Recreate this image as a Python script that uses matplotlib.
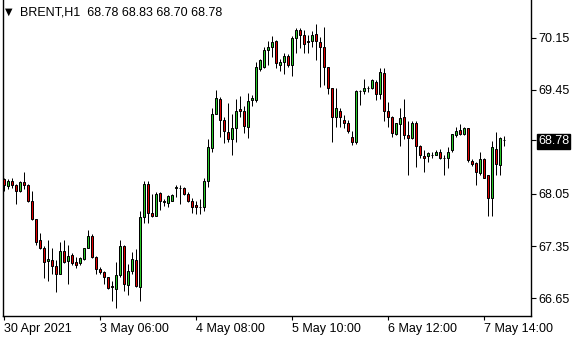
import matplotlib
matplotlib.use("Agg")
import matplotlib.pyplot as plt
import numpy as np

symbol_title = "BRENT,H1  68.78 68.83 68.70 68.78"

opens = [68.25, 68.16, 68.22, 68.17, 68.09, 68.21, 68.17, 67.95, 67.71, 67.43,
         67.33, 67.15, 67.16, 67.08, 66.98, 67.29, 67.15, 67.23, 67.13, 67.12,
         67.17, 67.33, 67.49, 67.20, 67.04, 67.00, 66.93, 66.81, 66.77, 66.96,
         67.35, 66.82, 67.02, 67.16, 66.80, 67.74, 68.18, 67.80, 67.76, 68.06,
         67.96, 67.93, 67.96, 68.13, 68.13, 68.13, 68.05, 67.96, 67.90, 67.88,
         67.88, 68.22, 68.67, 69.13, 69.33, 69.05, 68.88, 68.79, 68.93, 69.19,
         69.17, 68.95, 69.31, 69.31, 69.73, 69.75, 69.98, 70.03, 70.10, 69.79,
         69.83, 69.91, 69.79, 70.14, 70.26, 70.18, 70.11, 70.11, 70.20, 70.09,
         70.03, 69.75, 69.47, 69.09, 69.17, 69.05, 69.01, 68.82, 68.75, 69.43,
         69.43, 69.47, 69.47, 69.56, 69.40, 69.67, 69.17, 69.09, 68.85, 68.99,
         69.08, 68.84, 68.80, 69.01, 68.70, 68.56, 68.56, 68.58, 68.58, 68.62,
         68.53, 68.54, 68.64, 68.84, 68.91, 68.85, 68.93, 68.49, 68.46, 68.33,
         68.52, 68.30, 68.00, 68.66, 68.44, 68.78]

closes = [68.17, 68.23, 68.17, 68.09, 68.21, 68.17, 67.95, 67.72, 67.41, 67.32,
          67.13, 67.17, 67.08, 66.98, 67.29, 67.13, 67.21, 67.12, 67.10, 67.19,
          67.32, 67.49, 67.20, 67.04, 67.00, 66.93, 66.78, 66.80, 66.96, 67.35,
          66.84, 67.02, 67.17, 66.81, 67.74, 68.19, 67.79, 67.75, 68.05, 67.96,
          67.94, 68.02, 68.03, 68.14, 68.13, 68.05, 67.96, 67.88, 67.88, 67.87,
          68.22, 68.68, 69.13, 69.34, 69.04, 68.89, 68.79, 68.93, 69.17, 69.17,
          68.96, 69.30, 69.34, 69.75, 69.85, 69.98, 70.03, 70.09, 69.81, 69.83,
          69.91, 69.78, 70.14, 70.26, 70.18, 70.06, 70.09, 70.19, 70.10, 70.03,
          69.75, 69.48, 69.09, 69.20, 69.08, 69.01, 68.89, 68.75, 69.44, 69.44,
          69.47, 69.47, 69.58, 69.40, 69.69, 69.16, 69.09, 68.87, 69.00, 69.07,
          68.84, 68.80, 69.00, 68.70, 68.57, 68.54, 68.60, 68.58, 68.61, 68.54,
          68.53, 68.62, 68.85, 68.89, 68.85, 68.93, 68.50, 68.45, 68.34, 68.52,
          68.27, 68.00, 68.68, 68.45, 68.80, 68.78]

highs = [68.27, 68.25, 68.26, 68.18, 68.22, 68.35, 68.19, 68.09, 67.72, 67.53,
         67.35, 67.43, 67.33, 67.16, 67.40, 67.43, 67.37, 67.25, 67.20, 67.20,
         67.33, 67.56, 67.51, 67.21, 67.07, 67.01, 66.94, 66.88, 67.14, 67.43,
         67.36, 67.11, 67.27, 67.31, 67.82, 68.23, 68.23, 68.05, 68.07, 68.07,
         67.98, 68.03, 68.05, 68.17, 68.17, 68.14, 68.07, 67.99, 67.95, 67.98,
         68.27, 68.79, 69.21, 69.45, 69.35, 69.08, 69.27, 69.12, 69.33, 69.37,
         69.23, 69.41, 69.38, 69.83, 69.87, 70.03, 70.10, 70.17, 70.12, 69.86,
         69.95, 69.93, 70.17, 70.28, 70.28, 70.26, 70.18, 70.24, 70.34, 70.16,
         70.30, 69.76, 69.48, 69.47, 69.20, 69.11, 69.05, 68.89, 69.45, 69.45,
         69.59, 69.50, 69.59, 69.58, 69.74, 69.74, 69.28, 69.10, 69.01, 69.20,
         69.32, 69.03, 69.03, 69.03, 68.71, 68.64, 68.61, 68.61, 68.64, 68.65,
         68.58, 68.68, 68.85, 68.95, 68.99, 68.95, 68.94, 68.52, 68.48, 68.61,
         68.53, 68.31, 68.76, 68.88, 68.82, 68.83]

lows = [68.09, 68.11, 68.13, 67.92, 68.07, 68.11, 67.94, 67.70, 67.37, 67.31,
        66.92, 66.88, 66.97, 66.73, 66.97, 67.12, 66.84, 67.10, 67.05, 67.10,
        67.16, 67.32, 67.19, 66.98, 66.98, 66.84, 66.77, 66.61, 66.52, 66.94,
        66.75, 66.69, 66.97, 66.80, 66.61, 67.66, 67.66, 67.74, 67.75, 67.84,
        67.89, 67.87, 67.95, 68.01, 67.92, 68.03, 67.94, 67.80, 67.78, 67.78,
        67.82, 68.14, 68.61, 69.12, 68.82, 68.73, 68.75, 68.57, 68.75, 69.09,
        68.87, 68.80, 69.23, 69.28, 69.70, 69.74, 69.79, 69.89, 69.74, 69.70,
        69.66, 69.75, 69.64, 69.95, 70.01, 69.95, 69.94, 70.03, 69.85, 69.49,
        69.51, 69.40, 68.75, 68.95, 68.95, 68.93, 68.87, 68.71, 68.72, 69.24,
        69.40, 69.42, 69.46, 69.31, 69.32, 69.03, 68.95, 68.82, 68.84, 68.69,
        68.79, 68.31, 68.79, 68.41, 68.54, 68.35, 68.48, 68.54, 68.57, 68.52,
        68.31, 68.40, 68.62, 68.82, 68.84, 68.84, 68.48, 68.42, 68.17, 68.31,
        68.26, 67.75, 67.75, 68.31, 68.31, 68.70]

price_ticks = [66.65, 67.35, 68.05, 68.78, 69.45, 70.15]
last_price = 68.78
time_tick_bars = [0, 24, 48, 72, 96, 120]
time_tick_labels = ["30 Apr 2021", "3 May 06:00", "4 May 08:00",
                    "5 May 10:00", "6 May 12:00", "7 May 14:00"]

W, H = 580, 340
fig = plt.figure(figsize=(W / 100, H / 100), dpi=100)
fig.patch.set_facecolor("white")
left_px, right_px, top_px, bottom_px = 3.0, 531.0, 0, 316
ax = fig.add_axes([left_px / W, 1 - bottom_px / H,
                   (right_px - left_px) / W, (bottom_px - top_px) / H])
ax.set_facecolor("white")

o = np.array(opens); c = np.array(closes)
hi = np.array(highs); lo = np.array(lows)
x = np.arange(len(o))
up = c >= o
green = "#28c828"
red = "#e00000"

ax.vlines(x, lo, hi, color="black", linewidth=0.72, zorder=2)
bottoms = np.minimum(o, c)
heights = np.abs(c - o)
ax.bar(x[up], heights[up], bottom=bottoms[up], width=0.5, color=green,
       edgecolor="black", linewidth=0.72, zorder=3)
ax.bar(x[~up], heights[~up], bottom=bottoms[~up], width=0.5, color=red,
       edgecolor="black", linewidth=0.72, zorder=3)

xmin = -0.125
ax.set_xlim(xmin, xmin + (right_px - left_px) / 4.0)
ppu = 74.4
ytop = 70.657
ax.set_ylim(ytop - (bottom_px - top_px) / ppu, ytop)

ax.spines["top"].set_visible(False)
for s in ["left", "right", "bottom"]:
    ax.spines[s].set_color("black")
    ax.spines[s].set_linewidth(1.0)

fsize = 9
ax.yaxis.tick_right()
ax.set_yticks(price_ticks)
ax.set_yticklabels([f"{v:.2f}" for v in price_ticks])
ax.tick_params(axis="y", direction="out", length=3.5, width=0.8, pad=1.5,
               labelsize=fsize, colors="black")
for lbl in ax.get_yticklabels():
    lbl.set_family("Liberation Sans")
    if lbl.get_text() == f"{last_price:.2f}":
        lbl.set_color("white")
        lbl.set_bbox(dict(facecolor="black", edgecolor="black", pad=1.0))

ax.set_xticks(time_tick_bars)
ax.set_xticklabels(time_tick_labels)
ax.tick_params(axis="x", direction="out", length=3, width=0.8, pad=2,
               labelsize=fsize, colors="black")
for lbl in ax.get_xticklabels():
    lbl.set_family("Liberation Sans")
    lbl.set_horizontalalignment("left")

fig.text(4.5 / W, 1 - 11.5 / H, "\u25BC", fontsize=7, family="DejaVu Sans",
         va="center", ha="left", color="black")
fig.text(20 / W, 1 - 12.5 / H, symbol_title, va="center", ha="left",
         color="black", family="Liberation Sans", size=fsize)

fig.savefig("out.png", dpi=100, facecolor="white")
